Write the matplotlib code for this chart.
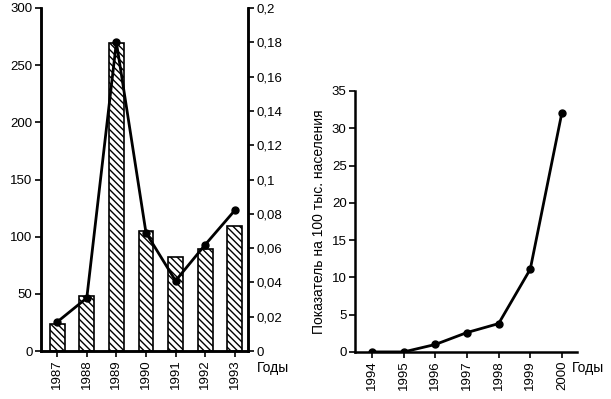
import matplotlib
matplotlib.use("Agg")
import matplotlib.pyplot as plt

plt.rcParams['font.family'] = ['Liberation Sans', 'DejaVu Sans']
plt.rcParams['font.size'] = 9.5
plt.rcParams['hatch.linewidth'] = 1.0

# Left panel data
years_left = ['1987', '1988', '1989', '1990', '1991', '1992', '1993']
bar_values = [24, 48, 269, 105, 82, 89, 109]
line_values = [0.017, 0.031, 0.180, 0.069, 0.041, 0.062, 0.082]

# Right panel data
years_right = ['1994', '1995', '1996', '1997', '1998', '1999', '2000']
rate_values = [0, 0, 1.0, 2.6, 3.8, 11.1, 32.1]

fig = plt.figure(figsize=(6.11, 3.99), dpi=100)

# Left panel: bars + line on secondary axis
ax1 = fig.add_axes([0.067, 0.12, 0.339, 0.86])
x = range(len(years_left))
ax1.bar(x, bar_values, width=0.5, color='white', edgecolor='black',
        hatch='\\\\\\\\\\', linewidth=1.2)
ax1.set_ylim(0, 300)
ax1.set_xlim(-0.55, 6.45)
ax1.set_yticks(range(0, 301, 50))
ax1.set_xticks(list(x))
ax1.set_xticklabels(years_left, rotation=90)
ax1.spines['top'].set_visible(False)
for s in ['left', 'right', 'bottom']:
    ax1.spines[s].set_linewidth(1.8)
ax1.tick_params(length=4, width=1.2, pad=2)

ax2 = ax1.twinx()
ax2.plot(list(x), line_values, color='black', linewidth=2, marker='o',
         markersize=5)
ax2.set_ylim(0, 0.2)
ax2.set_yticks([i / 100 for i in range(0, 21, 2)])
ax2.set_yticklabels(['0'] + [f"{v / 100:.2f}".rstrip('0').replace('.', ',')
                            for v in range(2, 21, 2)])
ax2.spines['top'].set_visible(False)
for s in ['left', 'right', 'bottom']:
    ax2.spines[s].set_linewidth(1.8)
ax2.tick_params(length=4, width=1.2, pad=2)

# Right panel: line
ax3 = fig.add_axes([0.581, 0.118, 0.363, 0.654])
xr = range(len(years_right))
ax3.plot(list(xr), rate_values, color='black', linewidth=2, marker='o',
         markersize=5)
ax3.set_ylim(0, 35)
ax3.set_xlim(-0.54, 6.47)
ax3.set_yticks(range(0, 36, 5))
ax3.set_xticks(list(xr))
ax3.set_xticklabels(years_right, rotation=90)
ax3.spines['top'].set_visible(False)
ax3.spines['right'].set_visible(False)
for s in ['left', 'bottom']:
    ax3.spines[s].set_linewidth(1.8)
ax3.tick_params(length=4, width=1.2, pad=2)
ax3.set_ylabel('Показатель на 100 тыс. населения', fontsize=10, labelpad=4)

# Axis captions
fig.text(0.421, 0.078, 'Годы', fontsize=10, va='center', ha='left')
fig.text(0.936, 0.078, 'Годы', fontsize=10, va='center', ha='left')

fig.savefig('out.png', dpi=100)
